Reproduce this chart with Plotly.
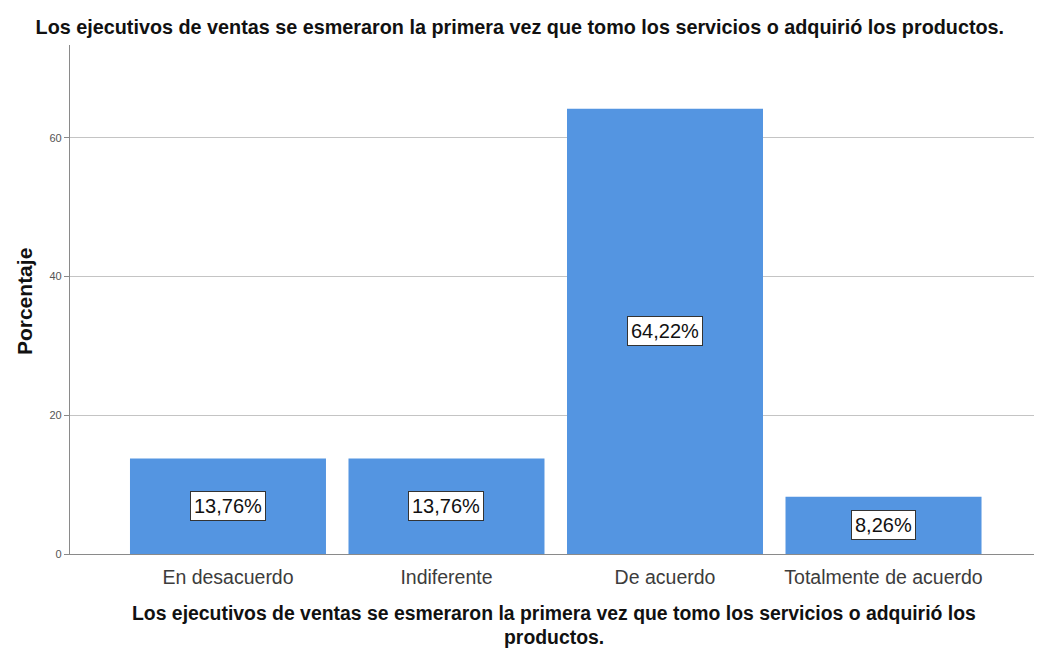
import plotly.graph_objects as go

categories = ["En desacuerdo", "Indiferente", "De acuerdo", "Totalmente de acuerdo"]
percentages = [13.76, 13.76, 64.22, 8.26]
value_labels = ["13,76%", "13,76%", "64,22%", "8,26%"]
y_ticks = [0, 20, 40, 60]

title_text = "Los ejecutivos de ventas se esmeraron la primera vez que tomo los servicios o adquirió los productos."
x_title_lines = ["Los ejecutivos de ventas se esmeraron la primera vez que tomo los servicios o adquirió los",
                 "productos."]

bar_color = "#5495e1"
font_family = "Liberation Sans, Arial, sans-serif"
ink = "#111111"

fig = go.Figure()
fig.add_trace(go.Bar(x=categories, y=percentages, marker=dict(color=bar_color, line=dict(width=0)),
                     hoverinfo="skip", showlegend=False))

# value boxes at mid-height of each bar
for cat, val, lbl in zip(categories, percentages, value_labels):
    fig.add_annotation(x=cat, y=val / 2, text=lbl, showarrow=False,
                       font=dict(size=20, color=ink, family=font_family),
                       bgcolor="white", bordercolor="#333333", borderwidth=1, borderpad=3)

# axis titles (SPSS puts the long x title on two tight lines)
for line, ypos in zip(x_title_lines, [-0.1159, -0.1631]):
    fig.add_annotation(xref="paper", yref="paper", x=0.5, y=ypos, text="<b>" + line + "</b>",
                       showarrow=False, yanchor="middle", borderpad=0,
                       font=dict(size=19.4, color=ink, family=font_family))
fig.add_annotation(xref="paper", yref="paper", x=-0.0475, y=0.495, text="<b>Porcentaje</b>",
                   textangle=-90, showarrow=False, xanchor="center", yanchor="middle",
                   font=dict(size=21, color=ink, family=font_family))

# page body adds an 8px offset, so the figure is 8px smaller than the window
fig.update_layout(
    width=1034, height=641,
    margin=dict(l=62, r=4, t=37, b=95),
    plot_bgcolor="white", paper_bgcolor="white",
    bargap=0.103,
    font=dict(family=font_family),
    title=dict(text="<b>" + title_text + "</b>", x=0.495, xanchor="center", y=0.970, yanchor="middle",
               font=dict(size=19.8, color=ink, family=font_family)),
)
fig.update_xaxes(
    range=[-0.723, 3.707], showgrid=False, zeroline=False, automargin=False,
    showline=True, linecolor="#8a8a8a", linewidth=1.2, ticks="", ticklabelstandoff=5,
    tickfont=dict(size=19.5, color="#3c3c3c", family=font_family),
)
fig.update_yaxes(
    range=[0, 73.4], tickvals=y_ticks, showgrid=True, gridcolor="#c4c4c4", gridwidth=1,
    zeroline=False, showline=True, linecolor="#8a8a8a", linewidth=1.2, automargin=False,
    ticks="outside", ticklen=5, tickcolor="#8a8a8a",
    tickfont=dict(size=11, color="#555555", family=font_family),
)

fig.write_html("out.html")
